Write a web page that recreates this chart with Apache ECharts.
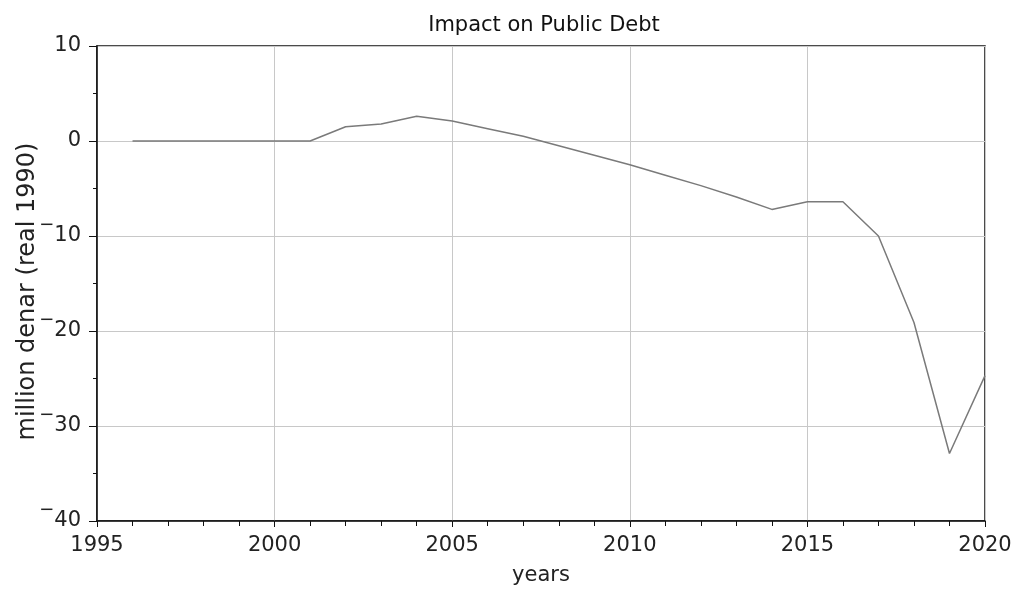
<!DOCTYPE html>
<html>
<head>
<meta charset="utf-8">
<script src="https://cdn.jsdelivr.net/npm/echarts@6/dist/echarts.min.js"></script>
<style>html,body{margin:0;padding:0;background:#fff;}#c{width:1015px;height:594px;}</style>
</head>
<body>
<div id="c"></div>
<script>
var years = [1996,1997,1998,1999,2000,2001,2002,2003,2004,2005,2006,2007,2008,2009,2010,2011,2012,2013,2014,2015,2016,2017,2018,2019,2020];
var debt  = [0,0,0,0,0,0,1.5,1.8,2.6,2.1,1.3,0.5,-0.5,-1.5,-2.5,-3.6,-4.7,-5.9,-7.2,-6.4,-6.4,-10.0,-19.1,-32.9,-24.7];
var yTicks = [10,0,-10,-20,-30,-40];
var xTicks = [1995,2000,2005,2010,2015,2020];

var chart = echarts.init(document.getElementById('c'));
var font = 'DejaVu Sans, Liberation Sans, Arial, sans-serif';
chart.setOption({
  backgroundColor: '#fff',
  animation: false,
  title: {
    text: 'Impact on Public Debt',
    left: 539, top: 10, textAlign: 'center',
    textStyle: {fontFamily: font, fontWeight: 'normal', fontSize: 21, color: '#111'}
  },
  grid: {left: 97, right: 30, top: 46, bottom: 73, show: true, borderColor: '#111', borderWidth: 1.5,
         containLabel: false, outerBoundsMode: 'none'},
  xAxis: {
    type: 'value', min: 1995, max: 2020, interval: 5,
    name: 'years', nameLocation: 'middle', nameGap: 44, nameMoveOverlap: false,
    nameTextStyle: {fontFamily: font, fontSize: 21, color: '#222'},
    axisLine: {show: true, onZero: false, lineStyle: {color: '#111', width: 1.5}},
    axisTick: {show: true, length: 6, lineStyle: {color: '#111'}},
    minorTick: {show: true, splitNumber: 5, length: 5, lineStyle: {color: '#111'}},
    splitLine: {show: true, lineStyle: {color: '#c8c8c8', width: 1}},
    axisLabel: {fontFamily: font, fontSize: 21, color: '#222', margin: 14,
      formatter: function(v){ return xTicks.indexOf(v) >= 0 ? String(v) : ''; }}
  },
  yAxis: {
    type: 'value', min: -40, max: 10, interval: 10,
    name: 'million denar (real 1990)', nameLocation: 'middle', nameGap: 57, nameRotate: 90,
    nameMoveOverlap: false,
    nameTextStyle: {fontFamily: font, fontSize: 24, color: '#222', padding: [0, 16, 0, 0]},
    axisLine: {show: true, onZero: false, lineStyle: {color: '#111', width: 1.5}},
    axisTick: {show: true, length: 8, lineStyle: {color: '#111'}},
    minorTick: {show: true, splitNumber: 2, length: 4, lineStyle: {color: '#111'}},
    splitLine: {show: true, lineStyle: {color: '#c8c8c8', width: 1}},
    axisLabel: {fontFamily: font, fontSize: 21, color: '#222', margin: 16,
      formatter: function(v){
        if (yTicks.indexOf(v) < 0) return '';
        return v < 0 ? '{m|\u2212}{n|' + (-v) + '}' : '{n|' + v + '}';
      },
      rich: {
        n: {fontFamily: font, fontSize: 21, color: '#222', padding: [9, 0, 9, 0], verticalAlign: 'middle'},
        m: {fontFamily: font, fontSize: 18, color: '#222', padding: [0, 0, 18, 0], verticalAlign: 'top'}
      }
    }
  },
  series: [{
    type: 'line',
    data: years.map(function(y, i){ return [y, debt[i]]; }),
    showSymbol: false,
    lineStyle: {color: '#7a7a7a', width: 1.5},
    itemStyle: {color: '#7a7a7a'}
  }]
});
</script>
</body>
</html>
